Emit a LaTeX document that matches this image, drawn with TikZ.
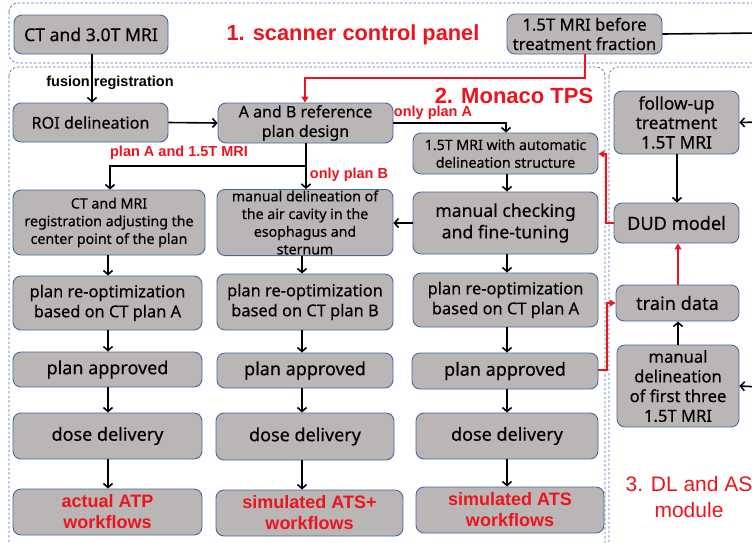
\documentclass[tikz,border=0pt]{standalone}
\usepackage{fontspec}
\setmainfont{Noto Sans}[FakeBold=0.35]
\newfontfamily\arialf{Liberation Sans}
\usetikzlibrary{arrows.meta,calc}
\definecolor{boxfill}{RGB}{186,182,181}
\definecolor{boxline}{RGB}{70,105,160}
\definecolor{regline}{RGB}{80,110,170}
\definecolor{myred}{RGB}{236,20,30}
\newcommand{\fs}[2]{\fontsize{#1}{#2}\selectfont}
\tikzset{
  box/.style={draw=boxline, fill=boxfill, line width=0.9pt, rounded corners=8pt, align=center, inner sep=1pt, font=\fs{16.4}{20}},
  arr/.style={line width=1.6pt, -{Straight Barb[length=4pt,width=9pt]}},
  redarr/.style={line width=1.6pt, draw=myred, -{Triangle[length=6pt,width=7pt]}, color=myred},
  region/.style={draw=regline, dash pattern=on 2.5pt off 2pt, line width=0.7pt, rounded corners=9pt},
  lbl/.style={font=\arialf\bfseries\fs{14.5}{16}},
  rlbl/.style={font=\arialf\bfseries\fs{14.5}{16}, text=myred},
  outtxt/.style={font=\arialf\bfseries\fs{18}{21}, text=myred},
}
\begin{document}
\begin{tikzpicture}[x=1pt,y=-1pt]
\useasboundingbox (0,0) rectangle (752,542);
\clip (0,0) rectangle (752,542);
\fill[white] (0,0) rectangle (752,542);
% regions
\draw[region] (9,3) rectangle (775,63);
\draw[region] (9,67) rectangle (605,560);
\draw[region] (609,67) rectangle (775,560);
% titles
\node[font=\arialf\bfseries\fs{21.8}{24}, text=myred] (t1) at (353,35) {1. scanner control panel};
\node[font=\arialf\bfseries\fs{22}{24}, text=myred] (t2) at (514,96) {2. Monaco TPS};
\node[font=\arialf\fs{21}{26}, text=myred, align=center] (t3) at (689,497) {3. DL and AS\\module};
% nodes
\node[box, minimum width=154, minimum height=39, font=\fs{17.6}{20}] (ct30) at (91,34.5) {CT and 3.0T MRI};
\node[box, minimum width=155, minimum height=40, font=\fs{16.7}{19.5}] (mri15) at (584.5,34) {1.5T MRI before\\treatment fraction};
\node[box, minimum width=155, minimum height=39, font=\fs{16.2}{18}] (roi) at (90.5,122.5) {ROI delineation};
\node[box, minimum width=175, minimum height=40, font=\fs{16}{19.5}] (ab) at (305.5,123) {A and B reference\\plan design};
\node[box, minimum width=185, minimum height=41, font=\fs{14.2}{17.7}] (auto) at (505.5,153.5) {1.5T MRI with automatic\\delineation structure};
\node[box, minimum width=192, minimum height=65, font=\fs{14.2}{17.7}] (c1reg) at (109,222.5) {CT and MRI\\registration adjusting the\\center point of the plan};
\node[box, minimum width=176, minimum height=65, font=\fs{14.2}{17.7}] (c2man) at (305,222.5) {manual delineation of\\the air cavity in the\\esophagus and\\sternum};
\node[box, minimum width=185, minimum height=62, font=\fs{17.6}{21.5}] (c3chk) at (505.5,223) {manual checking\\and fine-tuning};
\node[box, minimum width=189, minimum height=54] (c1opt) at (107.5,303) {plan re-optimization\\based on CT plan A};
\node[box, minimum width=176, minimum height=56] (c2opt) at (305,302) {plan re-optimization\\based on CT plan B};
\node[box, minimum width=185, minimum height=54] (c3opt) at (505.5,300) {plan re-optimization\\based on CT plan A};
\node[box, minimum width=189, minimum height=35, font=\fs{18}{20}] (c1app) at (107.5,369.5) {plan approved};
\node[box, minimum width=176, minimum height=35, font=\fs{18}{20}] (c2app) at (305,370.5) {plan approved};
\node[box, minimum width=186, minimum height=36, font=\fs{18}{20}] (c3app) at (505,371) {plan approved};
\node[box, minimum width=189, minimum height=46, font=\fs{18}{20}] (c1dose) at (107.5,436) {dose delivery};
\node[box, minimum width=178, minimum height=47, font=\fs{18}{20}] (c2dose) at (305,436.5) {dose delivery};
\node[box, minimum width=182, minimum height=46, font=\fs{18}{20}] (c3dose) at (507,436) {dose delivery};
\node[box, minimum width=189, minimum height=46, outtxt] (c1out) at (107.5,512) {actual ATP\\workflows};
\node[box, minimum width=187, minimum height=46, outtxt] (c2out) at (309.5,513) {simulated ATS+\\workflows};
\node[box, minimum width=188, minimum height=46, outtxt] (c3out) at (510,510) {simulated ATS\\workflows};
\node[box, minimum width=125, minimum height=63, font=\fs{17.3}{19.5}] (fu) at (676.5,122.5) {follow-up\\treatment\\1.5T MRI};
\node[box, minimum width=125, minimum height=40, font=\fs{18.2}{20}] (dud) at (676.5,223) {DUD model};
\node[box, minimum width=123, minimum height=36, font=\fs{18.2}{20}] (train) at (677.5,303) {train data};
\node[box, minimum width=122, minimum height=82, font=\fs{16.6}{19.7}] (mandel) at (678,386) {manual\\delineation\\of first three\\1.5T MRI};
% labels
\node[lbl] (lfus) at (110,83) {fusion registration};
\node[rlbl] (lpa15) at (179,153) {plan A and 1.5T MRI};
\node[rlbl] (lopb) at (349,175) {only plan B};
\node[rlbl] (lopa) at (433,113) {only plan A};
% coordinates at right edge
\coordinate (e1) at (760,33);
\coordinate (e2) at (760,122);
\coordinate (e3) at (760,387);
\coordinate (jab) at (306,166);
% connectors
\draw[arr] (ct30.south -| 92,0) -- (roi.north -| 92,0);
\draw[arr] (roi.east) -- (ab.west);
\draw[redarr] (mri15.south -| 585,0) -- (585,78) -- (305,78) -- (ab.north -| 305,0);
\draw[arr] (ab.east) -- (506,123) -- (auto.north -| 506,0);
\draw[line width=1.6pt] (ab.south -| 306,0) -- (jab);
\draw[arr] (jab) -- (110,166) -- (c1reg.north -| 110,0);
\draw[arr] (jab) -- (c2man.north -| 306,0);
\draw[line width=1.6pt] (mri15.east) -- (e1);
\draw[arr] (e2) -- (fu.east);
\draw[arr] (e3) -- (mandel.east);
% column arrows
\draw[arr] (c1reg.south -| 108,0) -- (c1opt.north -| 108,0);
\draw[arr] (c1opt.south -| 108,0) -- (c1app.north -| 108,0);
\draw[arr] (c1app.south -| 108,0) -- (c1dose.north -| 108,0);
\draw[arr] (c1dose.south -| 108,0) -- (c1out.north -| 108,0);
\draw[arr] (c2man.south -| 302,0) -- (c2opt.north -| 302,0);
\draw[arr] (c2opt.south -| 302,0) -- (c2app.north -| 302,0);
\draw[arr] (c2app.south -| 302,0) -- (c2dose.north -| 302,0);
\draw[arr] (c2dose.south -| 302,0) -- (c2out.north -| 302,0);
\draw[arr] (auto.south -| 507,0) -- (c3chk.north -| 507,0);
\draw[arr] (c3chk.south -| 507,0) -- (c3opt.north -| 507,0);
\draw[arr] (c3opt.south -| 507,0) -- (c3app.north -| 507,0);
\draw[arr] (c3app.south -| 507,0) -- (c3dose.north -| 507,0);
\draw[arr] (c3dose.south -| 507,0) -- (c3out.north -| 507,0);
\draw[arr] (c3chk.west) -- (c2man.east |- c3chk.west);
% DL module
\draw[arr] (fu.south -| 677,0) -- (dud.north -| 677,0);
\draw[redarr] (train.north -| 678,0) -- (dud.south -| 678,0);
\draw[arr] (mandel.north -| 678,0) -- (train.south -| 678,0);
\draw[redarr] (dud.west) -- (606,223) -- (606,154) -- (auto.east |- 0,154);
\draw[redarr] (c3app.east |- 0,370) -- (607,370) -- (607,303) -- (train.west);
\end{tikzpicture}
\end{document}
